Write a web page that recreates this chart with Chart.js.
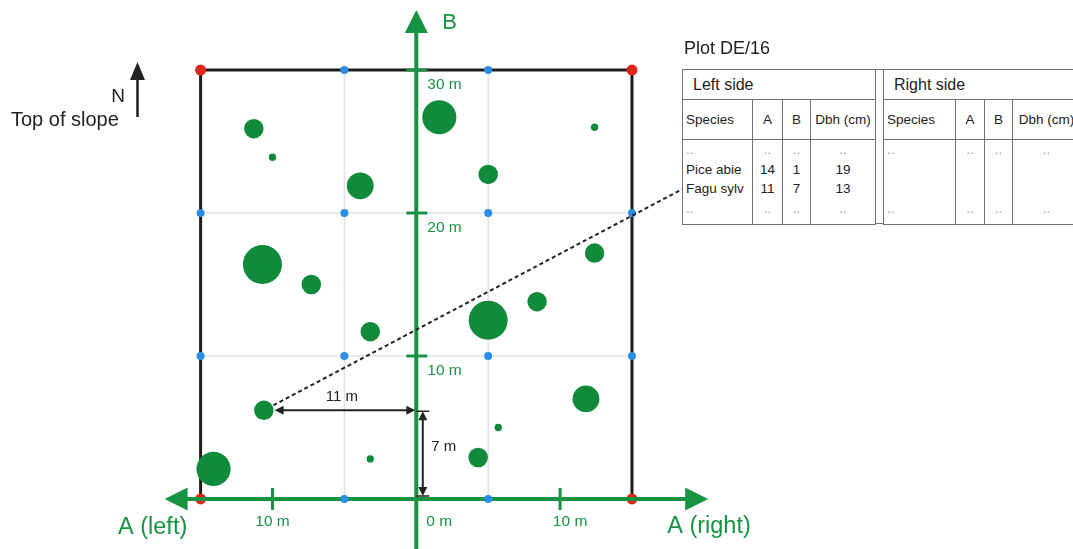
<!DOCTYPE html>
<html>
<head>
<meta charset="utf-8">
<script src="https://cdn.jsdelivr.net/npm/chart.js@4.4.0/dist/chart.umd.min.js"></script>
<style>
html, body { margin: 0; padding: 0; background: #fff; overflow: hidden; }
#wrap { position: relative; width: 1073px; height: 549px; overflow: hidden; font-family: "Liberation Sans", Arial, sans-serif; }
#chartBox { position: absolute; left: 0; top: 0; width: 1073px; height: 549px; }
#title { position: absolute; left: 684px; top: 38px; font-size: 18px; line-height: 20px; color: #222; }
table.t { position: absolute; top: 69px; border-collapse: collapse; table-layout: fixed; background: #fff; color: #222; }
table.t td { border: 1px solid #707070; padding: 0; }
table.t tr.r1 td { height: 29px; font-size: 16px; padding-left: 10px; }
table.t tr.r2 td { height: 39px; font-size: 13.5px; text-align: center; }
table.t tr.r3 td { height: 84px; font-size: 13.5px; text-align: center; vertical-align: top; line-height: 19.5px; }
table.t td.s { text-align: left !important; padding-left: 3px; }
table.t .dots { color: #999; }
.gapline { position: absolute; left: 875px; width: 9px; height: 1px; background: #707070; }
</style>
</head>
<body>
<div id="wrap">
  <div id="chartBox"><canvas id="plot"></canvas></div>
  <div id="title"></div>
  <table id="leftTab" class="t" style="left:682px;width:193px"></table>
  <table id="rightTab" class="t" style="left:883px;width:197px"></table>
  <div class="gapline" style="top:69px"></div>
  <div class="gapline" style="top:223px"></div>
</div>
<script>
// trees: A (negative = left side), B in metres, dbh in cm
const treeA   = [-11.3, -10.0, 1.6, 5.0, -3.9, -10.7, -7.3, -3.2, 5.0, 8.4, 12.4, 12.4, -10.6, -14.1, -3.2, 5.7, 4.3, 11.8];
const treeB   = [25.9, 23.9, 26.7, 22.7, 21.9, 16.4, 15.0, 11.7, 12.5, 13.8, 17.2, 26.0, 6.2, 2.1, 2.8, 5.0, 2.9, 7.0];
const treeDbh = [13, 8, 19, 13, 16, 21, 13, 13, 21, 13, 13, 8, 13, 19, 8, 8, 13, 16];
const linkedTree = 12; // Fagu sylv

const plotHalfWidth = 15;
const plotDepth = 30;
const gridA = [-5, 5];
const gridB = [10, 20];
const ticksA = [-10, 10];
const ticksB = [10, 20, 30];
const tickLabelsA = ['10 m', '10 m'];
const tickLabelsB = ['10 m', '20 m', '30 m'];
const originLabel = '0 m';

const plotName = 'Plot DE/16';
const tableColumns = ['Species', 'A', 'B', 'Dbh (cm)'];
const leftSpecies  = ['..', 'Pice abie', 'Fagu sylv', '..'];
const leftA        = ['..', 14, 11, '..'];
const leftB        = ['..', 1, 7, '..'];
const leftDbh      = ['..', 19, 13, '..'];
const rightSpecies = ['..', '', '', '..'];
const rightA       = ['..', '', '', '..'];
const rightB       = ['..', '', '', '..'];
const rightDbh     = ['..', '', '', '..'];

const GREEN = '#169443';
const TREE_GREEN = '#118a3b';
const INK = '#222';

// visible window in metres
const X_MIN = -28.95, X_MAX = 45.67, Y_MIN = -3.5, Y_MAX = 34.9;
const A_TIP_LEFT = -17.5, A_TIP_RIGHT = 20.3, B_TIP = 34.2;

const radius = d => 1.22 * d - 6.1;

// ---- table
document.getElementById('title').textContent = plotName;
function buildTable(el, title, cols, widths, linkRow) {
  let h = '<colgroup>' + widths.map(w => `<col style="width:${w}px">`).join('') + '</colgroup>';
  h += `<tr class="r1"><td colspan="4">${title}</td></tr>`;
  h += '<tr class="r2">' + tableColumns.map((c, i) => `<td class="${i ? '' : 's'}">${c}</td>`).join('') + '</tr>';
  h += '<tr class="r3">' + cols.map((col, i) => `<td class="${i ? '' : 's'}">` +
    col.map((v, r) => `<div${(linkRow === r && i === 0) ? ' id="linkRow"' : ''} class="${v === '..' ? 'dots' : ''}">${v === '' ? '&nbsp;' : v}</div>`).join('') +
    '</td>').join('') + '</tr>';
  el.innerHTML = h;
}
buildTable(document.getElementById('leftTab'), 'Left side', [leftSpecies, leftA, leftB, leftDbh], [70, 30, 28, 65], 2);
buildTable(document.getElementById('rightTab'), 'Right side', [rightSpecies, rightA, rightB, rightDbh], [72, 29, 28, 68], -1);

// ---- datasets
const trees = treeA.map((a, i) => ({ x: a, y: treeB[i], r: radius(treeDbh[i]) }));

const blueDots = [];
gridA.forEach(a => [0, ...gridB, plotDepth].forEach(b => blueDots.push({ x: a, y: b })));
[-plotHalfWidth, plotHalfWidth].forEach(a => gridB.forEach(b => blueDots.push({ x: a, y: b })));

const redDots = [];
[-plotHalfWidth, plotHalfWidth].forEach(a => [0, plotDepth].forEach(b => redDots.push({ x: a, y: b })));

const lineSet = (data, color, width, order) => ({
  type: 'line', data, borderColor: color, borderWidth: width, pointRadius: 0,
  fill: false, tension: 0, order, borderCapStyle: 'butt'
});

const gridSets = [
  ...gridA.map(a => lineSet([{ x: a, y: 0 }, { x: a, y: plotDepth }], '#dfe2e8', 1.5, 6)),
  ...gridB.map(b => lineSet([{ x: -plotHalfWidth, y: b }, { x: plotHalfWidth, y: b }], '#dfe2e8', 1.5, 6))
];
const borderSet = lineSet([
  { x: -plotHalfWidth, y: 0 }, { x: -plotHalfWidth, y: plotDepth },
  { x: plotHalfWidth, y: plotDepth }, { x: plotHalfWidth, y: 0 }
], '#1d1d1d', 3, 5);
const axisSets = [
  lineSet([{ x: A_TIP_LEFT + 1, y: 0 }, { x: A_TIP_RIGHT - 1, y: 0 }], GREEN, 4, 3),
  lineSet([{ x: 0, y: Y_MIN }, { x: 0, y: B_TIP - 1 }], GREEN, 4, 3)
];

function arrowHead(ctx, x, y, dx, dy, len, half, color) {
  const nx = -dy, ny = dx;
  ctx.beginPath();
  ctx.moveTo(x, y);
  ctx.lineTo(x - dx * len + nx * half, y - dy * len + ny * half);
  ctx.lineTo(x - dx * len - nx * half, y - dy * len - ny * half);
  ctx.closePath();
  ctx.fillStyle = color;
  ctx.fill();
}

const overlay = {
  id: 'overlay',
  afterDatasetsDraw(chart) {
    const { ctx } = chart;
    const sx = chart.scales.x, sy = chart.scales.y;
    const px = v => sx.getPixelForValue(v), py = v => sy.getPixelForValue(v);
    const ox = px(0), oy = py(0);
    ctx.save();

    // axis arrows and ticks
    arrowHead(ctx, px(A_TIP_LEFT), oy, -1, 0, 23, 11.5, GREEN);
    arrowHead(ctx, px(A_TIP_RIGHT), oy, 1, 0, 23, 11.5, GREEN);
    arrowHead(ctx, ox, py(B_TIP), 0, -1, 23, 11.5, GREEN);
    ctx.strokeStyle = GREEN;
    ctx.lineWidth = 3;
    ticksB.forEach(b => { ctx.beginPath(); ctx.moveTo(ox - 10, py(b)); ctx.lineTo(ox + 11, py(b)); ctx.stroke(); });
    ticksA.forEach(a => { ctx.beginPath(); ctx.moveTo(px(a), oy - 11); ctx.lineTo(px(a), oy + 11); ctx.stroke(); });

    // axis labels
    ctx.fillStyle = GREEN;
    ctx.textBaseline = 'middle';
    ctx.font = '15.5px "Liberation Sans", Arial, sans-serif';
    ctx.textAlign = 'left';
    ticksB.forEach((b, i) => ctx.fillText(tickLabelsB[i], ox + 11, py(b) + 15));
    ctx.fillText(originLabel, ox + 10, oy + 23);
    ctx.textAlign = 'center';
    ticksA.forEach((a, i) => ctx.fillText(tickLabelsA[i], px(a) + (a > 0 ? 10 : 0), oy + 23));
    ctx.font = '23.5px "Liberation Sans", Arial, sans-serif';
    ctx.fillText('A (left)', px(A_TIP_LEFT) - 12, oy + 29);
    ctx.textAlign = 'left';
    ctx.fillText('A (right)', px(A_TIP_RIGHT) - 41, oy + 28);
    ctx.font = '22px "Liberation Sans", Arial, sans-serif';
    ctx.fillText('B', ox + 26, py(B_TIP) + 13);

    // measurement of the linked tree
    const tx = px(treeA[linkedTree]), ty = py(treeB[linkedTree]), tr = radius(treeDbh[linkedTree]);
    ctx.strokeStyle = INK; ctx.fillStyle = INK; ctx.lineWidth = 2;
    ctx.beginPath(); ctx.moveTo(tx + tr + 4, ty); ctx.lineTo(ox - 4, ty); ctx.stroke();
    arrowHead(ctx, tx + tr + 1, ty, -1, 0, 9, 4.5, INK);
    arrowHead(ctx, ox - 1, ty, 1, 0, 9, 4.5, INK);
    const vx = ox + 6.5, y1 = ty + 1, y2 = oy - 3;
    ctx.beginPath(); ctx.moveTo(vx, y1 + 4); ctx.lineTo(vx, y2 - 4); ctx.stroke();
    ctx.lineWidth = 1.5;
    ctx.beginPath(); ctx.moveTo(ox, y1); ctx.lineTo(ox + 13, y1); ctx.moveTo(ox, y2); ctx.lineTo(ox + 13, y2); ctx.stroke();
    arrowHead(ctx, vx, y1, 0, -1, 9, 4.5, INK);
    arrowHead(ctx, vx, y2, 0, 1, 9, 4.5, INK);
    ctx.font = '15px "Liberation Sans", Arial, sans-serif';
    ctx.textAlign = 'center';
    ctx.fillText(leftA[2] + ' m', (tx + tr + ox) / 2 - 3, ty - 13);
    ctx.textAlign = 'left';
    ctx.fillText(leftB[2] + ' m', ox + 15, (y1 + y2) / 2 - 7);

    // dashed link to the table row
    const wrapRect = document.getElementById('wrap').getBoundingClientRect();
    const rowRect = document.getElementById('linkRow').getBoundingClientRect();
    const ex = rowRect.left - wrapRect.left - 3, ey = rowRect.top - wrapRect.top + rowRect.height / 2;
    const len = Math.hypot(ex - tx, ey - ty);
    const ux = (ex - tx) / len, uy = (ey - ty) / len;
    ctx.setLineDash([4, 3]);
    ctx.lineWidth = 2;
    ctx.strokeStyle = INK;
    ctx.beginPath(); ctx.moveTo(tx + ux * (tr + 1), ty + uy * (tr + 1)); ctx.lineTo(ex, ey); ctx.stroke();
    ctx.setLineDash([]);

    // north arrow
    ctx.lineWidth = 2.5;
    ctx.beginPath(); ctx.moveTo(137.5, 117); ctx.lineTo(137.5, 76); ctx.stroke();
    arrowHead(ctx, 137.5, 62, 0, -1, 18, 7.5, INK);
    ctx.fillStyle = INK;
    ctx.font = '19px "Liberation Sans", Arial, sans-serif';
    ctx.textAlign = 'center';
    ctx.fillText('N', 118, 97);
    ctx.font = '20px "Liberation Sans", Arial, sans-serif';
    ctx.textAlign = 'left';
    ctx.fillText('Top of slope', 11, 120);

    ctx.restore();
  }
};

new Chart(document.getElementById('plot'), {
  type: 'bubble',
  data: {
    datasets: [
      { type: 'bubble', data: trees, backgroundColor: TREE_GREEN, borderWidth: 0, order: 0 },
      { type: 'scatter', data: blueDots, backgroundColor: '#2a8ee6', borderWidth: 0, pointRadius: 4, order: 1 },
      ...axisSets,
      { type: 'scatter', data: redDots, backgroundColor: '#e0261b', borderWidth: 0, pointRadius: 5.5, order: 4 },
      borderSet,
      ...gridSets
    ]
  },
  options: {
    responsive: true,
    maintainAspectRatio: false,
    animation: false,
    events: [],
    layout: { padding: 0, autoPadding: false },
    plugins: { legend: { display: false }, tooltip: { enabled: false } },
    scales: {
      x: { type: 'linear', min: X_MIN, max: X_MAX, display: false },
      y: { type: 'linear', min: Y_MIN, max: Y_MAX, display: false }
    }
  },
  plugins: [overlay]
});
</script>
</body>
</html>
